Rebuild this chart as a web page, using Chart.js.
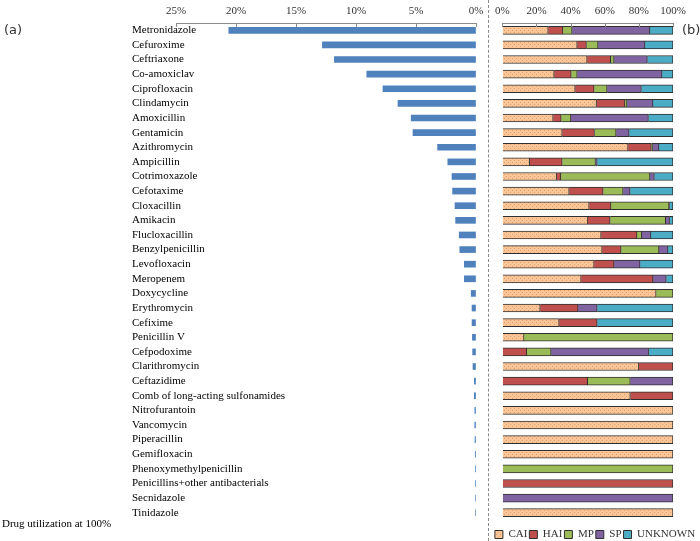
<!DOCTYPE html>
<html>
<head>
<meta charset="utf-8">
<script src="https://cdn.jsdelivr.net/npm/chart.js@4/dist/chart.umd.min.js"></script>
<style>
  html, body { margin: 0; padding: 0; background: #fff; }
  #wrap { position: relative; width: 700px; height: 541px; overflow: hidden; }
  #left { position: absolute; left: 0; top: 0; }
  #right { position: absolute; left: 490px; top: 0; }
  .sep { position: absolute; left: 488px; top: 0; height: 541px; border-left: 1px dashed #8a8a8a; }
  .tag { position: absolute; font-family: "DejaVu Sans", sans-serif; font-size: 13px; color: #333; }
  .note { position: absolute; left: 2px; top: 517px; font-family: "Liberation Serif", serif; font-size: 11px; color: #000; }
</style>
</head>
<body>
<div id="wrap">
  <canvas id="left" width="488" height="541"></canvas>
  <div class="sep"></div>
  <canvas id="right" width="210" height="550"></canvas>
  <div class="tag" style="left:4px;top:22px;">(a)</div>
  <div class="tag" style="left:682px;top:22px;">(b)</div>
  <div class="note">Drug utilization at 100%</div>
</div>
<script>
// ==================== DATA ====================
const drugs = ["Metronidazole", "Cefuroxime", "Ceftriaxone", "Co-amoxiclav", "Ciprofloxacin", "Clindamycin",
  "Amoxicillin", "Gentamicin", "Azithromycin", "Ampicillin", "Cotrimoxazole", "Cefotaxime", "Cloxacillin",
  "Amikacin", "Flucloxacillin", "Benzylpenicillin", "Levofloxacin", "Meropenem", "Doxycycline", "Erythromycin",
  "Cefixime", "Penicillin V", "Cefpodoxime", "Clarithromycin", "Ceftazidime", "Comb of long-acting sulfonamides",
  "Nitrofurantoin", "Vancomycin", "Piperacillin", "Gemifloxacin", "Phenoxymethylpenicillin",
  "Penicillins+other antibacterials", "Secnidazole", "Tinidazole"];

// share of total drug utilization (%)
const utilization = [20.6, 12.8, 11.8, 9.1, 7.75, 6.5, 5.4, 5.25, 3.2, 2.35, 2.0, 1.95, 1.75, 1.7, 1.4, 1.35,
  0.97, 0.97, 0.4, 0.33, 0.33, 0.3, 0.28, 0.25, 0.14, 0.14, 0.1, 0.1, 0.08, 0.06, 0.05, 0.05, 0.04, 0.04];

// indication split per drug (%)
const seriesNames = ["CAI", "HAI", "MP", "SP", "UNKNOWN"];
const cai = [26.9, 43.9, 49.7, 30.4, 42.7, 55.2, 29.8, 35.1, 73.7, 16, 31.8, 39.2, 50.9, 50.1, 57.9, 58.5,
  53.8, 46.2, 90.1, 22.2, 33.3, 12.7, 0, 80, 0, 75, 100, 100, 100, 100, 0, 0, 0, 100];
const hai = [8.6, 5.4, 13.8, 10, 11.1, 16.7, 4.7, 18.9, 13.6, 19.1, 2.5, 19.9, 12.8, 13.1, 21, 11.1,
  11.7, 42.1, 0, 22.2, 22.3, 0, 14.3, 20, 50, 25, 0, 0, 0, 0, 0, 100, 0, 0];
const mp = [5.4, 6.8, 2, 3.5, 7.6, 1.2, 5.7, 12.7, 0.8, 19.5, 52.2, 11.7, 34, 32.5, 2.8, 22.2,
  0, 0, 9.9, 0, 0, 87.3, 14.3, 0, 25, 0, 0, 0, 0, 0, 100, 0, 0, 0];
const sp = [45.6, 27.5, 19.5, 49.7, 20.1, 15.2, 45.4, 7.6, 3.7, 1, 2.6, 4.1, 0.3, 2.3, 5.4, 5.3,
  15.2, 7.8, 0, 11.2, 0, 0, 57.1, 0, 25, 0, 0, 0, 0, 0, 0, 0, 100, 0];
const unknown = [13.5, 16.4, 15, 6.4, 18.5, 11.7, 14.4, 25.7, 8.2, 44.4, 10.9, 25.1, 2, 2, 12.9, 2.9,
  19.3, 3.9, 0, 44.4, 44.4, 0, 14.3, 0, 0, 0, 0, 0, 0, 0, 0, 0, 0, 0];

const leftTicks = [0, 5, 10, 15, 20, 25];
const rightTicks = [0, 20, 40, 60, 80, 100];

// ==================== STYLE HELPERS ====================
const serif = "'Liberation Serif', 'Times New Roman', serif";
const axisGray = '#8c8c8c';

function caiPattern() {
  const c = document.createElement('canvas');
  c.width = 4; c.height = 4;
  const g = c.getContext('2d');
  g.fillStyle = '#fbc597';
  g.fillRect(0, 0, 4, 4);
  g.fillStyle = '#e2a06c';
  g.fillRect(0, 0, 1, 1);
  g.fillRect(2, 2, 1, 1);
  return g.createPattern(c, 'repeat');
}

// small tick marks hanging below the top axis line
const tickMarks = {
  id: 'tickMarks',
  afterDraw(chart) {
    const s = chart.scales.x;
    const c = chart.ctx;
    c.save();
    c.strokeStyle = axisGray;
    c.lineWidth = 1;
    s.ticks.forEach(t => {
      const px = Math.round(s.getPixelForValue(t.value)) + 0.5;
      c.beginPath();
      c.moveTo(px, s.bottom);
      c.lineTo(px, s.bottom + 4);
      c.stroke();
    });
    c.restore();
  }
};

function topAxis(max, reverse) {
  return {
    type: 'linear', position: 'top', min: 0, max: max, reverse: reverse,
    afterFit: s => { s.height = 18; },
    afterBuildTicks: s => { s.ticks = (max === 25 ? leftTicks : rightTicks).map(v => ({ value: v })); },
    grid: { drawOnChartArea: false, drawTicks: false },
    border: { display: true, color: axisGray, width: 1 },
    ticks: { padding: 5, color: '#333', font: { family: serif, size: 11 }, callback: v => v + '%' }
  };
}

// ==================== LEFT: UTILIZATION ====================
new Chart(document.getElementById('left'), {
  type: 'bar',
  data: {
    labels: drugs,
    datasets: [{ data: utilization, backgroundColor: '#4f81bd', barThickness: 6 }]
  },
  options: {
    responsive: false, animation: false, indexAxis: 'y',
    layout: { padding: { left: 132, right: 12, top: 5, bottom: 21 } },
    plugins: { legend: { display: false }, tooltip: { enabled: false } },
    scales: {
      x: topAxis(25, true),
      y: {
        afterFit: s => { s.width = 44; },
        grid: { display: false }, border: { display: false },
        // mirrored labels are not clipped, so they can run over the plot like the original
        ticks: { mirror: true, crossAlign: 'near', padding: -44, color: '#000', autoSkip: false, font: { family: serif, size: 11 } }
      }
    }
  },
  plugins: [tickMarks]
});

// ==================== RIGHT: INDICATION SPLIT ====================
const splitValues = [cai, hai, mp, sp, unknown];
const splitColors = [caiPattern(), '#c0504d', '#9bbb59', '#8064a2', '#4bacc6'];

new Chart(document.getElementById('right'), {
  type: 'bar',
  data: {
    labels: drugs,
    datasets: seriesNames.map((name, i) => ({
      label: name,
      data: splitValues[i].map(v => v || null),
      backgroundColor: splitColors[i],
      borderColor: '#2f2f2f',
      borderWidth: 1,
      barThickness: 8
    }))
  },
  options: {
    responsive: false, animation: false, indexAxis: 'y',
    layout: { padding: { left: 0, right: 0, top: 5, bottom: 0 } },
    plugins: {
      tooltip: { enabled: false },
      legend: {
        position: 'bottom',
        labels: { boxWidth: 8, boxHeight: 8, padding: 2, color: '#333', font: { family: serif, size: 11 } }
      }
    },
    scales: {
      x: Object.assign(topAxis(100, false), { stacked: true }),
      y: {
        stacked: true, afterFit: s => { s.width = 12; },
        grid: { display: false }, border: { display: false }, ticks: { display: false }
      },
      y2: {
        type: 'linear', position: 'right', afterFit: s => { s.width = 27; },
        grid: { display: false }, border: { display: false }, ticks: { display: false }
      },
      x2: {
        type: 'linear', position: 'bottom', afterFit: s => { s.height = 7; },
        grid: { display: false }, border: { display: false }, ticks: { display: false }
      }
    }
  },
  plugins: [tickMarks]
});
</script>
</body>
</html>
